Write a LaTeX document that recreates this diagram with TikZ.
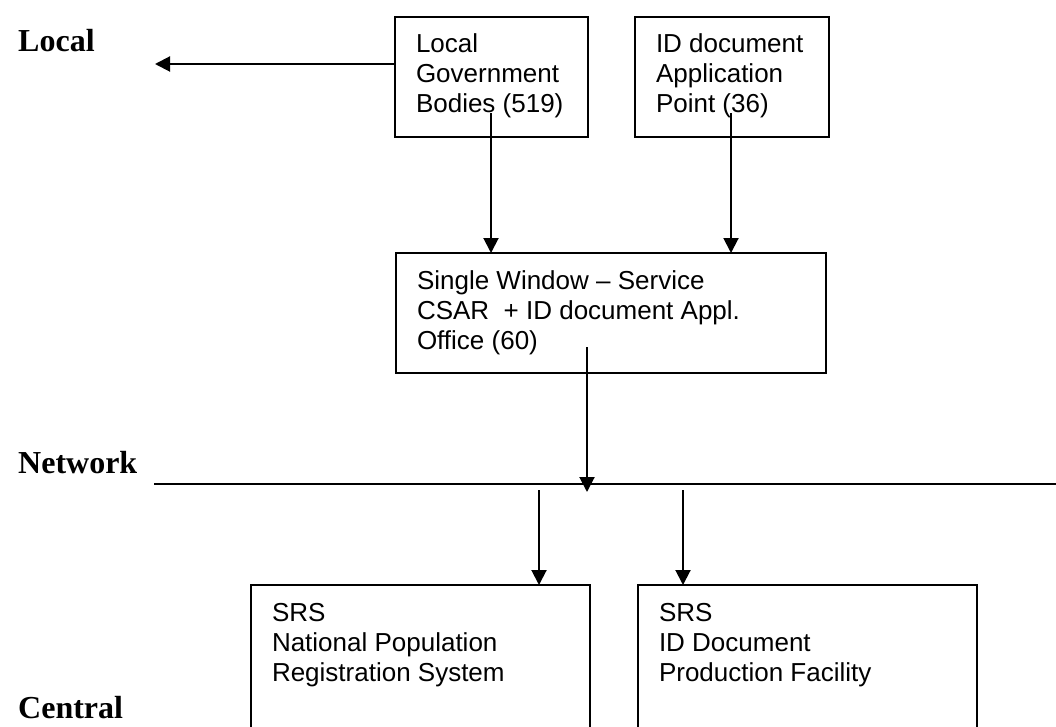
\documentclass[tikz,border=0pt]{standalone}
\usepackage{fontspec}
\setmainfont{Liberation Sans}
\newfontfamily\lblfont{Liberation Serif}
\usetikzlibrary{arrows.meta}
\newcommand{\boxtxt}[3]{\parbox[t][#2][t]{#1}{\raggedright\leftskip=21pt\fontsize{26}{30}\selectfont\rule{0pt}{36pt}#3}}
\tikzset{
  bx/.style={draw, line width=2pt, inner sep=0pt, outer sep=0pt, anchor=north west},
  lbl/.style={font=\lblfont\bfseries\fontsize{32}{36}\selectfont, anchor=base west, inner sep=0pt},
  arr/.style={-{Triangle[length=15pt,width=15pt]}, line width=2pt},
  netline/.style={line width=2.2pt}
}
\begin{document}
\begin{tikzpicture}[x=1pt,y=-1pt]
\useasboundingbox (0,0) rectangle (1056,727);
\clip (0,0) rectangle (1056,727);
% labels
\node[lbl] (lLocal) at (18,52) {Local};
\node[lbl] (lNet) at (18,473) {Network};
\node[lbl] (lCentral) at (18,718) {Central};
% boxes
\node[bx] (lgb) at (395,17) {\boxtxt{193pt}{120pt}{Local\\Government\\Bodies (519)}};
\node[bx] (idp) at (635,17) {\boxtxt{194pt}{120pt}{ID document\\Application\\Point (36)}};
\node[bx] (sw) at (396,253) {\boxtxt{430pt}{120pt}{Single Window – Service\\CSAR~ + ID document Appl.\\Office (60)}};
\node[bx] (srsA) at (251,585) {\boxtxt{339pt}{170pt}{SRS\\National Population\\Registration System}};
\node[bx] (srsB) at (638,585) {\boxtxt{339pt}{170pt}{SRS\\ID Document\\Production Facility}};
% coordinates
\coordinate (lefttip) at (155,64);
\coordinate (a1) at (491,113);
\coordinate (a2) at (731,113);
\coordinate (a3) at (587,347);
\coordinate (a3tip) at (587,492);
\coordinate (netL) at (154,484);
\coordinate (netR) at (1056,484);
\coordinate (b1) at (539,490);
\coordinate (b2) at (683,490);
% connectors
\draw[arr] (lgb.west |- lefttip) -- (lefttip);
\draw[arr] (a1) -- (a1 |- sw.north);
\draw[arr] (a2) -- (a2 |- sw.north);
\draw[netline] (netL) -- (netR);
\draw[arr] (a3) -- (a3tip);
\draw[arr] (b1) -- (b1 |- srsA.north);
\draw[arr] (b2) -- (b2 |- srsB.north);
\end{tikzpicture}
\end{document}
